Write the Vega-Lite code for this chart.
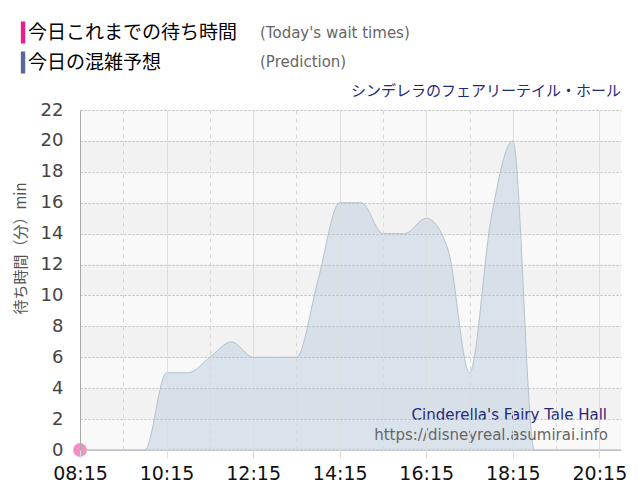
{
  "$schema": "https://vega.github.io/schema/vega-lite/v6.json",
  "width": 541,
  "height": 340,
  "autosize": {"type": "none"},
  "padding": {"left": 80, "top": 110, "right": 19, "bottom": 50},
  "background": "#ffffff",
  "view": {"fill": "#f9f9f9", "stroke": null},
  "title": {
    "text": "シンデレラのフェアリーテイル・ホール",
    "anchor": "end",
    "orient": "top",
    "frame": "group",
    "baseline": "bottom",
    "offset": 10,
    "dy": 101,
    "font": "Noto Sans CJK JP",
    "fontSize": 15,
    "fontWeight": "normal",
    "color": "#1f2a7a"
  },
  "datasets": {
    "prediction": [
      {"time": "2024-01-01 08:15", "wait": 0},
      {"time": "2024-01-01 08:45", "wait": 0},
      {"time": "2024-01-01 09:15", "wait": 0},
      {"time": "2024-01-01 09:45", "wait": 0},
      {"time": "2024-01-01 10:15", "wait": 5},
      {"time": "2024-01-01 10:45", "wait": 5},
      {"time": "2024-01-01 11:15", "wait": 6},
      {"time": "2024-01-01 11:45", "wait": 7},
      {"time": "2024-01-01 12:15", "wait": 6},
      {"time": "2024-01-01 12:45", "wait": 6},
      {"time": "2024-01-01 13:15", "wait": 6},
      {"time": "2024-01-01 13:45", "wait": 11},
      {"time": "2024-01-01 14:15", "wait": 16},
      {"time": "2024-01-01 14:45", "wait": 16},
      {"time": "2024-01-01 15:15", "wait": 14},
      {"time": "2024-01-01 15:45", "wait": 14},
      {"time": "2024-01-01 16:15", "wait": 15},
      {"time": "2024-01-01 16:45", "wait": 13},
      {"time": "2024-01-01 17:15", "wait": 5},
      {"time": "2024-01-01 17:45", "wait": 15},
      {"time": "2024-01-01 18:15", "wait": 20},
      {"time": "2024-01-01 18:45", "wait": 0},
      {"time": "2024-01-01 19:15", "wait": 0},
      {"time": "2024-01-01 19:45", "wait": 0},
      {"time": "2024-01-01 20:15", "wait": 0},
      {"time": "2024-01-01 20:45", "wait": 0}
    ],
    "today": [
      {"time": "2024-01-01 08:15", "wait": 0}
    ],
    "bands": [
      {"wait": 2, "hi": 4},
      {"wait": 6, "hi": 8},
      {"wait": 10, "hi": 12},
      {"wait": 14, "hi": 16},
      {"wait": 18, "hi": 20}
    ],
    "series": [
      {"ja": "今日これまでの待ち時間", "en": "(Today's wait times)"},
      {"ja": "今日の混雑予想", "en": "(Prediction)"}
    ]
  },
  "encoding": {
    "y": {
      "field": "wait",
      "type": "quantitative",
      "scale": {"domain": [0, 22], "nice": false, "zero": true},
      "axis": {
        "title": "待ち時間（分）min",
        "titleFont": "Noto Sans CJK JP",
        "titleFontSize": 15,
        "titleFontWeight": "normal",
        "titleColor": "#555555",
        "titleAngle": -90,
        "titleX": -60,
        "titleY": 138,
        "titleAlign": "center",
        "titleBaseline": "middle",
        "zindex": 1,
        "values": [0, 2, 4, 6, 8, 10, 12, 14, 16, 18, 20, 22],
        "ticks": false,
        "labelOverlap": false,
        "labelFlush": false,
        "labelFont": "DejaVu Sans",
        "labelFontSize": 18,
        "labelColor": "#444444",
        "labelPadding": 17,
        "domainColor": "#aaaaaa",
        "gridColor": "#bbbbbb",
        "gridDash": [2, 2]
      }
    }
  },
  "layer": [
    {
      "data": {"name": "bands"},
      "mark": {"type": "rect", "fill": "#f2f2f2"},
      "encoding": {
        "y2": {"field": "hi"}
      }
    },
    {
      "data": {"name": "prediction"},
      "mark": {
        "type": "area",
        "interpolate": "monotone",
        "fill": "#c5d4e2",
        "fillOpacity": 0.6,
        "stroke": "#b4c2cf",
        "strokeWidth": 1
      },
      "encoding": {
        "x": {
          "field": "time",
          "type": "temporal",
          "scale": {
            "domain": [
              {"year": 2024, "month": 1, "date": 1, "hours": 8, "minutes": 15},
              {"year": 2024, "month": 1, "date": 1, "hours": 20, "minutes": 45}
            ]
          },
          "axis": {
            "title": null,
            "zindex": 1,
            "domain": false,
            "values": [
              {"year": 2024, "month": 1, "date": 1, "hours": 8, "minutes": 15},
              {"year": 2024, "month": 1, "date": 1, "hours": 8, "minutes": 45},
              {"year": 2024, "month": 1, "date": 1, "hours": 9, "minutes": 15},
              {"year": 2024, "month": 1, "date": 1, "hours": 9, "minutes": 45},
              {"year": 2024, "month": 1, "date": 1, "hours": 10, "minutes": 15},
              {"year": 2024, "month": 1, "date": 1, "hours": 10, "minutes": 45},
              {"year": 2024, "month": 1, "date": 1, "hours": 11, "minutes": 15},
              {"year": 2024, "month": 1, "date": 1, "hours": 11, "minutes": 45},
              {"year": 2024, "month": 1, "date": 1, "hours": 12, "minutes": 15},
              {"year": 2024, "month": 1, "date": 1, "hours": 12, "minutes": 45},
              {"year": 2024, "month": 1, "date": 1, "hours": 13, "minutes": 15},
              {"year": 2024, "month": 1, "date": 1, "hours": 13, "minutes": 45},
              {"year": 2024, "month": 1, "date": 1, "hours": 14, "minutes": 15},
              {"year": 2024, "month": 1, "date": 1, "hours": 14, "minutes": 45},
              {"year": 2024, "month": 1, "date": 1, "hours": 15, "minutes": 15},
              {"year": 2024, "month": 1, "date": 1, "hours": 15, "minutes": 45},
              {"year": 2024, "month": 1, "date": 1, "hours": 16, "minutes": 15},
              {"year": 2024, "month": 1, "date": 1, "hours": 16, "minutes": 45},
              {"year": 2024, "month": 1, "date": 1, "hours": 17, "minutes": 15},
              {"year": 2024, "month": 1, "date": 1, "hours": 17, "minutes": 45},
              {"year": 2024, "month": 1, "date": 1, "hours": 18, "minutes": 15},
              {"year": 2024, "month": 1, "date": 1, "hours": 18, "minutes": 45},
              {"year": 2024, "month": 1, "date": 1, "hours": 19, "minutes": 15},
              {"year": 2024, "month": 1, "date": 1, "hours": 19, "minutes": 45},
              {"year": 2024, "month": 1, "date": 1, "hours": 20, "minutes": 15},
              {"year": 2024, "month": 1, "date": 1, "hours": 20, "minutes": 45}
            ],
            "labelExpr": "minutes(datum.value) == 15 && hours(datum.value) % 2 == 0 ? timeFormat(datum.value, '%H:%M') : ''",
            "labelFont": "DejaVu Sans",
            "labelFontSize": 19,
            "labelColor": "#111111",
            "labelPadding": 6,
            "labelFlush": false,
            "labelOverlap": false,
            "tickSize": 8,
            "tickColor": "#dddddd",
            "tickOpacity": {"condition": {"test": "minutes(datum.value) == 15 && hours(datum.value) % 2 == 0", "value": 1}, "value": 0},
            "gridColor": {"condition": {"test": "minutes(datum.value) == 15 && hours(datum.value) % 2 == 0", "value": "#dddddd"}, "value": "#d8d8d8"},
            "gridDash": {"condition": {"test": "minutes(datum.value) == 15 && hours(datum.value) % 2 == 0", "value": []}, "value": [4, 4]}
          }
        }
      }
    },
    {
      "data": {"name": "today"},
      "mark": {"type": "circle", "size": 190, "color": "#f48fc6", "opacity": 1},
      "encoding": {
        "x": {"field": "time", "type": "temporal"}
      }
    },
    {
      "data": {"name": "series"},
      "mark": {"type": "point", "filled": true, "opacity": 0},
      "encoding": {
        "y": {"value": 0},
        "color": {
          "field": "ja",
          "type": "nominal",
          "sort": null,
          "scale": {"domain": ["今日これまでの待ち時間", "今日の混雑予想"], "range": ["#ee1d8c", "#5a6798"]},
          "legend": {
            "orient": "none",
            "legendX": -65,
            "legendY": -87,
            "direction": "vertical",
            "title": null,
            "padding": 0,
            "symbolType": "M-1,-3L0.2,-3L0.2,3L-1,3Z",
            "symbolSize": 54,
            "symbolStrokeWidth": 0,
            "symbolOpacity": 1,
            "labelFont": "Noto Sans CJK JP",
            "labelFontSize": 19,
            "labelColor": "#000000",
            "labelOffset": -6,
            "labelLimit": 0,
            "rowPadding": 7
          }
        },
        "shape": {
          "field": "en",
          "type": "nominal",
          "sort": null,
          "scale": {"domain": ["(Today's wait times)", "(Prediction)"]},
          "legend": {
            "orient": "none",
            "legendX": 165,
            "legendY": -85,
            "direction": "vertical",
            "title": null,
            "padding": 0,
            "symbolSize": 1,
            "symbolOpacity": 0,
            "symbolStrokeWidth": 0,
            "labelFont": "DejaVu Sans",
            "labelFontSize": 15,
            "labelColor": "#666666",
            "labelOffset": 0,
            "labelLimit": 0,
            "rowPadding": 13
          }
        }
      }
    },
    {
      "data": {"values": [{"label": "Cinderella's Fairy Tale Hall", "wait": 1.94}]},
      "mark": {"type": "text", "align": "right", "baseline": "alphabetic", "dx": -14, "font": "DejaVu Sans", "fontSize": 15, "color": "#1f2a7a"},
      "encoding": {
        "x": {"datum": {"year": 2024, "month": 1, "date": 1, "hours": 20, "minutes": 45}, "type": "temporal"},
        "text": {"field": "label"}
      }
    },
    {
      "data": {"values": [{"label": "https://disneyreal.asumirai.info", "wait": 0.65}]},
      "mark": {"type": "text", "align": "right", "baseline": "alphabetic", "dx": -13, "font": "DejaVu Sans", "fontSize": 15, "color": "#666666"},
      "encoding": {
        "x": {"datum": {"year": 2024, "month": 1, "date": 1, "hours": 20, "minutes": 45}, "type": "temporal"},
        "text": {"field": "label"}
      }
    }
  ]
}
